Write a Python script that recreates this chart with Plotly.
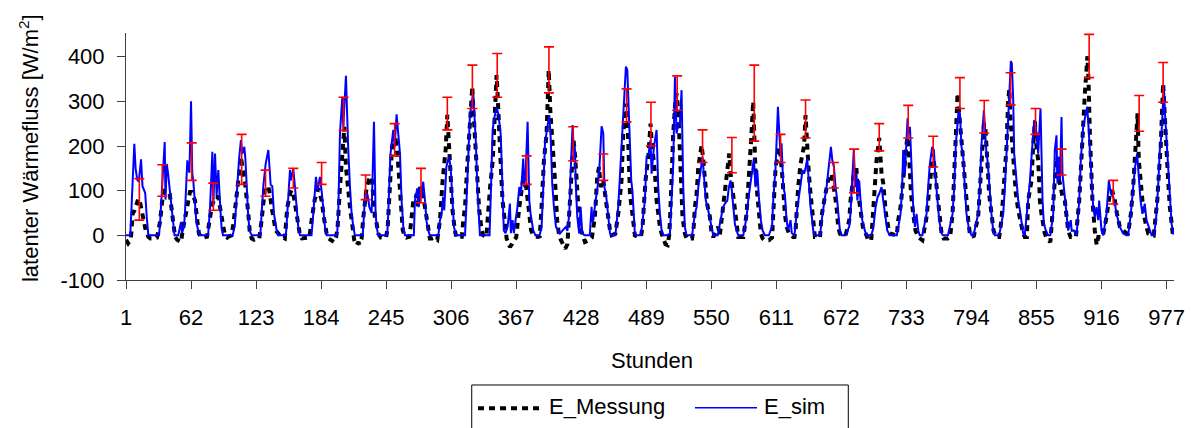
import plotly.graph_objects as go

# Hour ticks on the category axis
x_ticks = [1, 62, 123, 184, 245, 306, 367, 428, 489, 550, 611, 672, 733, 794, 855, 916, 977]
y_ticks = [-100, 0, 100, 200, 300, 400]

# Measured latent heat flux (hour, W/m2)
mess_points = [
    (1, -10), (3, -18), (5.5, -10), (7.3, 49), (9, 56), (10.8, 71), (12.6, 82), (14.5, 70), (16, 50), (17.2, 41), (19.5, 11), (21.9, -3), (24, -7),
    (26, -7), (30, -5), (32.9, 30), (35, 78), (37.3, 100), (40.5, 100), (42, 93), (44.3, 41), (45.9, 11), (47, -3), (49, -10), (51, -12), (52.6, -15),
    (54.2, 11), (56.3, 41), (58.8, 78), (61, 97), (62.6, 97), (65.7, 78), (67.8, 34), (69.4, 4), (71, -3), (74, -5),
    (77, -3), (79.2, 26), (81.4, 64), (84.5, 86), (87.6, 86), (89.1, 64), (90.5, 40), (92.3, 19), (93.8, 0), (96, -5),
    (97, -3), (100, 0), (102, 30), (104, 70), (107, 140), (108.8, 176), (111, 140), (113, 110), (115.7, 50), (117, 10), (118.9, -7), (121, -10),
    (124, -7), (126, -7), (128.2, 34), (129.8, 78), (131.4, 108), (134.5, 108), (136, 93), (137.6, 63), (139.2, 34), (141.4, 11), (143.9, 4), (146, -3),
    (150, -7), (152.3, 63), (154.8, 93), (156.3, 101), (158, 93), (159.8, 63), (162.6, 26), (164.2, 0), (166, -7), (168, -7),
    (171, -7), (173, -5), (175.1, 34), (178, 80), (181.5, 105), (184.5, 78), (187, 34), (189.2, 4), (191, -7), (194, -12), (196, -15),
    (198, -5), (199.5, 19), (201.7, 108), (204.8, 228), (205.8, 243), (207.3, 153), (209, 108), (211.1, 63), (213.5, 19), (215, -10), (217.3, -22), (219, -15),
    (220, -20), (222, -7), (223.6, 40), (226.7, 108), (229, 125), (231.4, 131), (233, 86), (234.5, 40), (236.1, 26), (237.6, 4), (240, -5),
    (245, -5), (246.5, 19), (248.5, 108), (250.5, 198), (252, 213), (254, 213), (255.8, 176), (257.4, 108), (259, 48), (260.6, 11), (262.7, -3), (264, -5),
    (267, -3), (268.9, 37), (270.5, 78), (272, 78), (273.7, 93), (275, 63), (276.7, 108), (279, 100), (281.4, 63), (283, 34), (284.5, 4), (286, -7), (288, -7),
    (290, -5), (293, -10), (295.5, 34), (298, 123), (299.5, 160), (300.8, 191), (302.4, 270), (303.3, 228), (304.2, 183), (305.5, 131), (307.3, 56), (309.4, 11), (311, -5), (312, -3),
    (316, -3), (317.4, 34), (319, 63), (321, 153), (322.8, 213), (325.8, 333), (327, 273), (328.8, 191), (330.5, 116), (332.3, 56), (334.6, 11), (336, 0),
    (339, -3), (340.8, 63), (342.5, 108), (345, 168), (346.4, 266), (348.6, 359), (349.5, 318), (351, 213), (352.9, 138), (354.2, 78), (356.4, 19), (358, -7), (361.1, -26), (363, -20), (365, -10),
    (367, -5), (369.9, 63), (372, 93), (374.2, 138), (376, 116), (378, 78), (379.6, 48), (381, 11), (383, 0), (385, -3), (388, -3),
    (389, -5), (390.8, 63), (393, 168), (395.5, 228), (396.2, 273), (397.5, 370), (399, 280), (400.6, 228), (402.2, 183), (403.8, 108), (405.4, 34), (407, 4), (409, -11), (411, -22), (413, -30), (415, -20),
    (416.2, 34), (417.7, 78), (419.3, 153), (420.8, 213), (422.3, 176), (423.8, 108), (425.3, 63), (426.8, 19), (429, 0), (431.5, -15), (434, -12), (436, -10),
    (438, -5), (440.8, 41), (443, 131), (444.7, 153), (446.2, 108), (448.7, 123), (451.2, 78), (452.8, 48), (455, 11), (456.5, 0), (460, 4),
    (462.7, 48), (464.3, 78), (465.8, 123), (467.4, 228), (469.9, 295), (471.5, 250), (472.2, 191), (472.7, 146), (473.7, 93), (475.3, 63), (476.9, 19), (478.3, 0), (481, -3),
    (484, -3), (485.5, 19), (486.8, 78), (488.3, 123), (490.9, 176), (493, 250), (494, 213), (495.6, 176), (497.2, 138), (498.7, 78), (500.2, 48), (501.8, 19), (503.4, 4), (505, -7), (507, -20), (509, -22),
    (510.5, 0), (511.5, 48), (512.7, 138), (514.3, 228), (516, 290), (517.4, 318), (519, 280), (520.5, 191), (521.5, 131), (522.1, 78), (523, 41), (525.2, 4), (526.8, -7), (532, -7),
    (533.5, 20), (534.6, 63), (536.2, 93), (537.8, 153), (540.9, 202), (542.5, 168), (544, 116), (546, 71), (548.7, 41), (550.3, 4), (551.8, -4), (555, 10), (556.5, 19), (558, 0),
    (559.6, 34), (561.3, 78), (563.7, 123), (566.8, 183), (568.1, 138), (569.9, 101), (572.1, 63), (573.7, 19), (575.3, -4), (580, -4),
    (583.1, 48), (584.6, 108), (586, 153), (587.5, 220), (589.3, 300), (590.5, 206), (591.5, 138), (593.1, 93), (594.6, 48), (596.5, 4), (598.1, -7), (600, -11), (604, -11),
    (607, -5), (608.1, 48), (609, 108), (610.3, 153), (613.7, 198), (615, 176), (616.7, 131), (617.5, 93), (619, 48), (620.6, 19), (623, 4), (626.8, -4), (628, -4),
    (629, 10), (630, 56), (631.5, 108), (633.7, 160), (635.6, 183), (637, 200), (638.4, 269), (640, 183), (641.5, 138), (643.1, 93), (644.6, 48), (645.6, 19), (647.2, -4), (652, -4),
    (653.3, 41), (656.5, 86), (659.5, 123), (662.8, 138), (664.3, 108), (665.8, 93), (667.5, 63), (669, 19), (670.6, 4), (672, 0), (676, 0),
    (679.4, 34), (680.6, 78), (682.5, 123), (684, 146), (686.2, 146), (687, 108), (688.7, 78), (690.8, 48), (692.2, 19), (695.5, 0), (697.2, -11), (700, -11),
    (701.9, 63), (703.5, 131), (705, 168), (707.5, 218), (709.7, 138), (711.3, 116), (712.3, 78), (713.8, 48), (716, 19), (717.5, 4), (724, 0),
    (725.3, 34), (727.5, 63), (729.3, 108), (731.6, 160), (733.8, 220), (735.2, 198), (736.3, 138), (737.3, 93), (739.4, 48), (741.5, 11), (744.1, -4), (748, -11),
    (751.9, 41), (754, 86), (755.8, 123), (757.8, 183), (759.5, 150), (761, 108), (762.5, 78), (764, 48), (766, 4), (768, -7), (772, -7),
    (774, -4), (776.3, 48), (777.8, 123), (779.4, 198), (781, 318), (782.5, 273), (784, 228), (785.8, 183), (787.3, 123), (788.9, 78), (791, 34), (792.5, 4), (796, -4),
    (800.3, 41), (801.9, 108), (803.5, 153), (805.7, 250), (807.2, 236), (808.1, 183), (809.6, 138), (810.6, 93), (812.8, 48), (814.7, 11), (817, -4), (820, -4),
    (822.2, 34), (823.8, 93), (825.4, 153), (826.9, 198), (828.4, 300), (829.5, 328), (830.5, 266), (831.9, 213), (833.2, 160), (834.7, 138), (835.7, 93), (837.9, 56), (841, 19), (842.5, 4), (844, -4),
    (846, -4), (847.2, 78), (850.4, 123), (851.7, 191), (853.5, 255), (855, 200), (856.6, 168), (857.5, 123), (858.2, 78), (859.7, 48), (861.2, 19), (862.8, 4), (864.5, -7), (868, -15),
    (869.1, 19), (870.7, 78), (872.2, 123), (874.5, 176), (876.3, 123), (877.8, 108), (879.4, 86), (881.6, 78), (883.2, 48), (884.7, 11), (887, -4), (892, -4),
    (895.1, 78), (896.6, 153), (898.8, 228), (900.4, 318), (902.8, 401), (903.8, 348), (905.1, 228), (906.6, 138), (907.5, 78), (909.7, 11), (910.7, -11), (911.5, -22), (913, -4), (916, -4),
    (917, -4), (920.7, 41), (923.8, 93), (926, 101), (928.5, 78), (930.5, 48), (933.2, 19), (936.3, 11), (939.5, 4), (941, 4),
    (943.5, 48), (945.7, 108), (947.3, 183), (948.8, 230), (949.8, 273), (951, 168), (952.6, 123), (954, 78), (955.5, 48), (958.2, 19), (959.8, 4), (965, 0),
    (967, 41), (968.3, 78), (970.2, 153), (971.5, 198), (973.8, 340), (975.2, 266), (976, 221), (977, 168), (978.5, 123), (980.1, 63), (981.7, 19), (983.2, -4), (984, -4),
]

# Simulated latent heat flux (hour, W/m2)
sim_points = [
    (1, 0), (4, 0), (5, 0), (6.5, 80), (8.8, 205), (10, 150), (11.5, 125), (13, 120), (15.1, 170), (16.5, 110), (18, 100), (19, 95), (20.5, 40), (22, 0),
    (25, 0), (32, 0), (33, 30), (34.5, 100), (36, 150), (37.3, 209), (38, 80), (39.2, 160), (40.4, 140), (42.9, 80), (45, 20), (46.5, 0), (50, 0),
    (52.6, 30), (53.5, 5), (55.4, 20), (56.3, 50), (58.5, 168), (59.5, 150), (60.5, 140), (62, 300), (63.2, 138), (64.1, 123), (65.7, 64), (67, 30), (68.8, 10), (70.4, 0), (72, 0),
    (73, 0), (78, 0), (79.8, 60), (82, 187), (83, 70), (84.5, 183), (86, 90), (87.6, 146), (89, 80), (90.7, 15), (92, 0), (96, 0),
    (97, 0), (101, 0), (103, 20), (105, 100), (107, 170), (108.8, 213), (110, 183), (112, 198), (113, 170), (115.7, 40), (117, 10), (118.9, 0), (120, 0),
    (121, 0), (127, 0), (128, 40), (129.8, 110), (132, 160), (134.5, 191), (136.7, 113), (138.2, 110), (139.8, 48), (142.3, 11), (144, 0),
    (145, 0), (151, 0), (152.3, 50), (154.8, 146), (155.7, 123), (157.9, 150), (159.5, 108), (161.1, 48), (162.6, 18), (164.2, 0), (168, 0),
    (169, 0), (175, 0), (176.7, 50), (179.2, 131), (180.8, 100), (182.9, 131), (184.8, 93), (186, 64), (187.6, 19), (189.2, 0), (192, 0),
    (193, 0), (199, 0), (200.1, 50), (201.7, 228), (203.9, 310), (204.8, 243), (207.3, 357), (208.5, 228), (209.5, 190), (211.1, 108), (212.6, 50), (214.2, 19), (215.7, 0), (218, 0),
    (219, 0), (223, 0), (224.3, 50), (225.2, 93), (226.7, 78), (227.4, 93), (229.3, 63), (231.4, 50), (233.6, 254), (235.1, 50), (236.1, 19), (237.6, 0), (240, 0),
    (241, 0), (246, 0), (247, 50), (249, 180), (251.7, 236), (253, 198), (254.8, 271), (256.3, 228), (258, 183), (259.5, 78), (261.1, 19), (262.7, 0), (264, 0),
    (265, 0), (271, 0), (272, 78), (274.2, 105), (275.5, 63), (276.7, 108), (278, 86), (279.8, 120), (281.4, 78), (283, 30), (284.5, 11), (286, 0), (288, 0),
    (289, 0), (294, 0), (295.5, 34), (297, 48), (298.5, 86), (299.5, 56), (301.5, 153), (303.9, 176), (305.5, 153), (307, 78), (308.6, 19), (310.5, 0), (312, 0),
    (313, 0), (319, 0), (319.9, 48), (321, 123), (322, 206), (323.6, 269), (326.7, 318), (327.7, 280), (329.2, 206), (330.5, 108), (332, 26), (333, 0), (336, 0),
    (337, 0), (342, 0), (343, 78), (344.9, 236), (346.4, 262), (348.6, 286), (350.2, 273), (352.4, 228), (353.3, 168), (354.2, 78), (355.4, 11), (357, 5), (359, 20), (361.1, 71), (362, 5), (363.6, 34), (364.8, 5), (366.8, 41),
    (368, 60), (369.9, 108), (371.5, 93), (373.6, 172), (374.5, 108), (375.8, 138), (377.7, 254), (379.3, 78), (380.5, 48), (383, 11), (384.5, 0),
    (385, 0), (389, 0), (390.8, 19), (392.4, 108), (394, 206), (396.2, 243), (398, 269), (399.3, 221), (400.8, 116), (402.4, 63), (404.3, 19), (406.4, 11), (408, 4), (412, 15), (413.6, 19), (415, 10),
    (416.8, 48), (418, 138), (419, 213), (419.9, 247), (421.1, 183), (422, 198), (423, 108), (424.3, 41), (426.1, 4), (427.4, 64), (429, 4), (431, 0), (436, 0),
    (437.7, 64), (438.5, 30), (439.3, 34), (441.5, 78), (443.3, 108), (445, 150), (447.1, 244), (448.7, 228), (449.7, 108), (451.2, 93), (453.3, 34), (455, 4), (456.5, 0), (460, 0),
    (462.7, 63), (464.9, 153), (466.8, 228), (468.5, 320), (469.9, 378), (471.2, 370), (472.7, 280), (473.7, 198), (474.9, 123), (476, 100), (477.4, 41), (478.3, 4), (480, 0),
    (484, 0), (487.7, 78), (489.3, 176), (491, 180), (493, 213), (494, 138), (495, 176), (496.2, 198), (498.7, 236), (500.2, 108), (501.8, 48), (503.4, 11), (505, 0), (508, 0),
    (511.2, 4), (512.7, 78), (514.3, 160), (515.9, 355), (517.4, 228), (519, 247), (520.5, 250), (522.1, 325), (523.7, 108), (525.2, 19), (526.8, 0), (532, 0),
    (534.6, 48), (536.2, 63), (537.8, 108), (541.8, 176), (543.1, 123), (544.9, 78), (547.1, 56), (548.7, 34), (550.3, 11), (551.8, 0), (556, 0),
    (559.6, 48), (561, 63), (562.8, 71), (565, 78), (566.5, 108), (568.1, 123), (569.3, 100), (570.6, 71), (572.1, 26), (573.7, 11), (575.3, 0), (580, 0),
    (583.1, 41), (584.6, 78), (586.8, 123), (589.9, 172), (591.5, 108), (593.1, 146), (594.6, 86), (596.5, 34), (598.1, 11), (600.3, 0), (604, 0),
    (607, 20), (608.1, 78), (610.3, 153), (612.5, 288), (613.7, 228), (615, 176), (615.9, 206), (617.5, 108), (619, 93), (620.6, 34), (622.1, 11), (624.3, 34), (625.5, 5), (628, 0),
    (630, 48), (631.5, 78), (633.7, 108), (635.6, 146), (637, 138), (638.4, 150), (640, 172), (641.5, 108), (643.1, 63), (644, 48), (645.6, 11), (647.2, 0), (652, 0),
    (654.3, 48), (655.8, 71), (658.1, 108), (660, 150), (662.2, 198), (663.5, 168), (665, 153), (666.5, 110), (668.1, 78), (670.6, 11), (672, 0), (676, 0),
    (679.4, 20), (680.5, 48), (681.6, 108), (683.7, 192), (685, 108), (686.2, 138), (687, 78), (688.7, 123), (690, 78), (691.6, 34), (694, 11), (695.5, 0), (700, 0),
    (701.9, 15), (704.1, 63), (706, 86), (707.5, 93), (708.5, 100), (709.7, 108), (711.3, 78), (712.8, 48), (715, 11), (717.5, 0), (724, 0),
    (727.5, 48), (729, 108), (730, 191), (731.6, 138), (734.1, 262), (735, 228), (736.3, 243), (737.5, 183), (739.4, 63), (741, 19), (742.5, 48), (744.1, 11), (745.5, 0), (748, 0),
    (751.9, 48), (753.4, 108), (755, 160), (757.2, 198), (758.8, 191), (760, 138), (761.9, 78), (763.8, 34), (766, 4), (767.5, 0), (772, 0),
    (776.3, 48), (777.8, 108), (779.4, 206), (781.9, 277), (783.2, 273), (784.7, 198), (786.3, 176), (787.8, 108), (789.4, 48), (791.9, 11), (794.1, 0), (796, 0),
    (800.3, 48), (801.9, 108), (803.5, 206), (805.7, 280), (807.2, 213), (808.1, 183), (809.1, 168), (810.6, 108), (812.8, 48), (814.4, 11), (816, 0), (820, 0),
    (823.8, 48), (825.4, 108), (826.9, 176), (829.1, 288), (831, 390), (831.9, 385), (833.2, 303), (834.1, 183), (835.7, 138), (837.9, 78), (839.5, 56), (841, 34), (842.5, 4), (844, 0),
    (847.2, 78), (848.8, 120), (850.4, 176), (852.9, 258), (854.4, 243), (855.5, 220), (856.6, 183), (858.8, 284), (860.7, 78), (861.9, 26), (863.8, 11), (866, 0), (868, 0),
    (870.7, 48), (872.2, 191), (873.8, 224), (874.7, 116), (876.3, 176), (877, 123), (878.5, 265), (879.4, 138), (881.6, 86), (883.2, 48), (884.7, 11), (887.2, 34), (888, 10), (890, 11), (892.6, 0),
    (895.1, 78), (896.6, 168), (898.8, 243), (902.6, 288), (903.8, 243), (905.1, 191), (906.6, 108), (908.2, 63), (909.7, 41), (911.2, 63), (912.9, 34), (913.8, 78), (916, 11), (917.6, 0),
    (920.7, 48), (922.9, 123), (924.8, 93), (927, 86), (928.5, 71), (930.1, 48), (933.2, 19), (936.3, 4), (939.5, 0), (941, 0),
    (943.5, 48), (945.7, 108), (947.3, 150), (949.4, 183), (951, 138), (952.6, 78), (954.4, 48), (956.6, 71), (958.2, 34), (961.3, 11), (963, 0), (965, 0),
    (967, 30), (969.1, 108), (970.7, 191), (972.3, 228), (974.5, 336), (975.7, 266), (977, 213), (978.5, 153), (980.1, 78), (981.7, 26), (983.2, 4), (984, 4),
]

# Daily uncertainty ranges of the measurement (hour, upper, lower)
err_hours = [13.5, 35, 62.6, 82.9, 109.5, 131.9, 157.9, 184.5, 205.1, 225.8, 253, 277.7, 302.4, 325.9,
             349.2, 376.8, 397.7, 420.5, 448.7, 470.5, 493.4, 518, 541.8, 569.3, 590.3, 615, 638.4,
             665, 684, 707.5, 734.7, 758.1, 783.2, 806, 830.7, 854.1, 878.5, 904.4, 927, 951.3, 973.8]
err_top = [127, 158, 207, 117, 226, 146, 150, 163, 309, 135, 250, 150, 309, 381,
           407, 178, 422, 243, 182, 328, 298, 357, 236, 219, 381, 226, 303,
           163, 193, 250, 291, 222, 353, 302, 364, 284, 193, 450, 123, 313, 387]
err_bottom = [34, 87.5, 123, 56, 114, 87.5, 106, 114, 235, 80, 178, 73, 236, 284,
              309, 114, 319, 167, 123, 254, 200, 280, 163, 140, 211, 163, 218,
              106, 95, 189, 218, 153, 284, 229, 292, 226, 135, 353, 70, 233, 298]

FONT = "Liberation Sans, Arial, sans-serif"
AXIS_COLOR = "#404040"
MESS_DASH = "6px,5px"

mess_h = [p[0] for p in mess_points]
mess_v = [p[1] for p in mess_points]
sim_h = [p[0] for p in sim_points]
sim_v = [p[1] for p in sim_points]
err_mid = [(t + b) / 2 for t, b in zip(err_top, err_bottom)]
err_plus = [t - m for t, m in zip(err_top, err_mid)]
err_minus = [m - b for m, b in zip(err_mid, err_bottom)]

fig = go.Figure()
fig.add_trace(go.Scatter(
    x=mess_h, y=mess_v, mode="lines", name="E_Messung",
    line=dict(color="black", width=4, dash=MESS_DASH),
))
fig.add_trace(go.Scatter(
    x=sim_h, y=sim_v, mode="lines", name="E_sim",
    line=dict(color="#0000FF", width=2),
))
fig.add_trace(go.Scatter(
    x=err_hours, y=err_mid, mode="markers", showlegend=False,
    marker=dict(size=2, color="rgba(0,0,0,0)"),
    error_y=dict(type="data", symmetric=False, array=err_plus, arrayminus=err_minus,
                 color="#FF0000", thickness=1.6, width=5),
))

axis_common = dict(
    showline=True, linecolor=AXIS_COLOR, linewidth=1,
    ticks="outside", ticklen=8, tickcolor=AXIS_COLOR, tickwidth=1,
    showgrid=False, zeroline=False,
    tickfont=dict(family=FONT, size=22, color="black"),
)

fig.update_layout(
    width=1198, height=428,
    margin=dict(l=126, r=24, t=33, b=148),
    paper_bgcolor="white", plot_bgcolor="white",
    showlegend=False,
    font=dict(family=FONT, size=22, color="black"),
    xaxis=dict(range=[1, 984], tickmode="array", tickvals=x_ticks,
               ticktext=[str(t) for t in x_ticks], ticklabelstandoff=10, **axis_common),
    yaxis=dict(range=[-100, 453], tickmode="array", tickvals=y_ticks,
               ticktext=[str(t) for t in y_ticks], ticklabelstandoff=8, **axis_common),
)

# Axis titles
fig.add_annotation(text="Stunden", xref="paper", yref="paper", x=0.5022, y=-0.324,
                   showarrow=False, xanchor="center", yanchor="middle",
                   font=dict(family=FONT, size=22, color="black"))
fig.add_annotation(text="latenter Wärmefluss [W/m<sup>2</sup>]", xref="paper", yref="paper",
                   x=-0.0926, y=0.534, textangle=-90, showarrow=False,
                   xanchor="center", yanchor="middle",
                   font=dict(family=FONT, size=22, color="black"))

# Legend box drawn below the axis title
fig.add_shape(type="rect", xref="paper", yref="paper", x0=0.3299, x1=0.6892, y0=-0.70, y1=-0.4251,
              line=dict(color="black", width=1), fillcolor="white", layer="above")
fig.add_shape(type="line", xref="paper", yref="paper", x0=0.3359, x1=0.3969, y0=-0.5194, y1=-0.5194,
              line=dict(color="black", width=4, dash=MESS_DASH))
fig.add_annotation(text="E_Messung", xref="paper", yref="paper", x=0.4017, y=-0.512,
                   showarrow=False, xanchor="left", yanchor="middle",
                   font=dict(family=FONT, size=22, color="black"))
fig.add_shape(type="line", xref="paper", yref="paper", x0=0.5429, x1=0.6021, y0=-0.517, y1=-0.517,
              line=dict(color="#0000FF", width=1.5))
fig.add_annotation(text="E_sim", xref="paper", yref="paper", x=0.6066, y=-0.512,
                   showarrow=False, xanchor="left", yanchor="middle",
                   font=dict(family=FONT, size=22, color="black"))

fig.write_html("out.html")
